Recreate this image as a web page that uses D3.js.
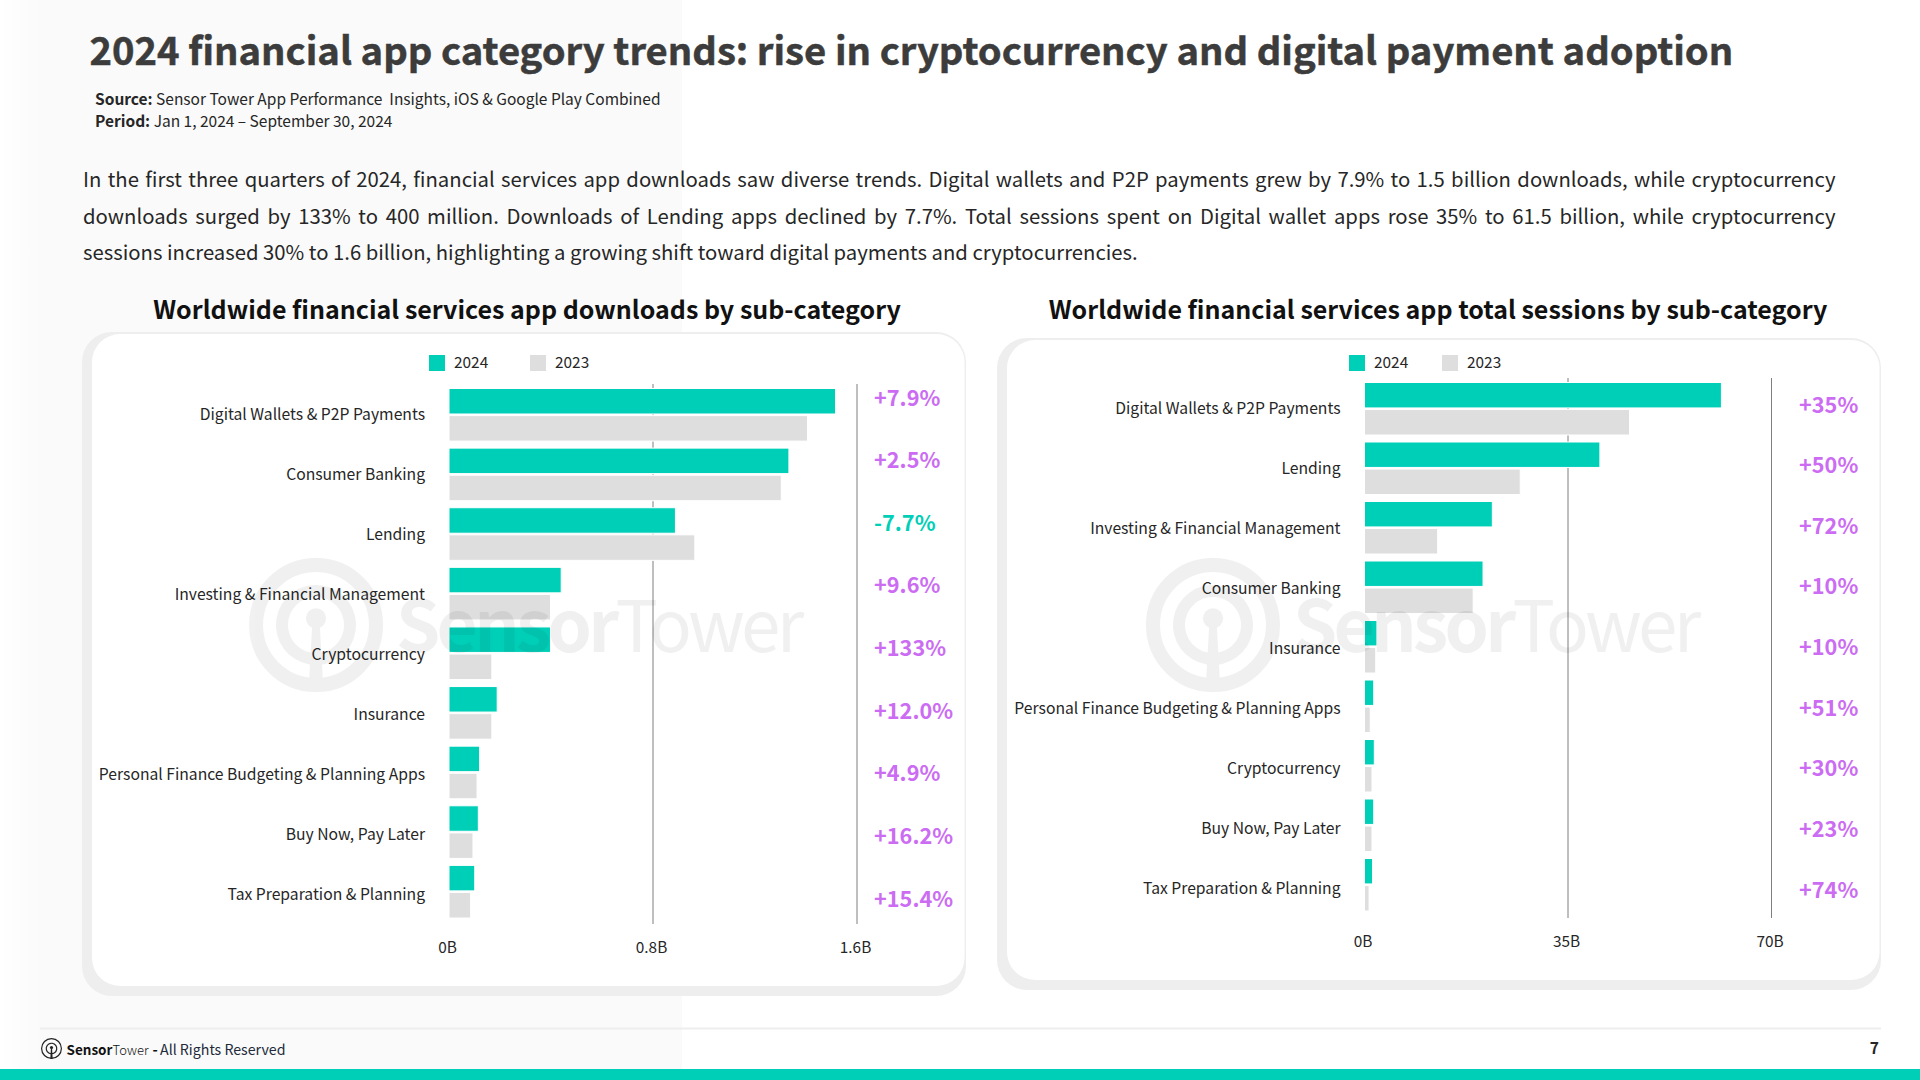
<!doctype html>
<html>
<head>
<meta charset="utf-8">
<title>2024 financial app category trends</title>
<style>
  html, body { margin:0; padding:0; background:#fff; }
  svg { display:block; }
  text { font-family:"Noto Sans CJK SC", "Noto Sans", sans-serif; white-space:pre; }
  .axis path { display:none; }
  .axis text { font-family:"Noto Sans CJK SC", "Noto Sans", sans-serif; fill:#262626; }
  .grid line { stroke:#7f7f7f; stroke-width:1px; }
</style>
<script src="https://d3js.org/d3.v7.min.js"></script>
</head>
<body>
<svg id="slide" width="1920" height="1080"></svg>
<script>

  // downloads, billions
  var dlCategories = ["Digital Wallets & P2P Payments","Consumer Banking","Lending","Investing & Financial Management","Cryptocurrency","Insurance","Personal Finance Budgeting & Planning Apps","Buy Now, Pay Later","Tax Preparation & Planning"]
  var dl2024 = [1.514,1.331,0.886,0.438,0.396,0.187,0.118,0.113,0.099]
  var dl2023 = [1.404,1.301,0.962,0.396,0.166,0.166,0.108,0.092,0.083]
  var dlChange = ["+7.9%","+2.5%","-7.7%","+9.6%","+133%","+12.0%","+4.9%","+16.2%","+15.4%"]
  var dlTicks = [0,0.8,1.6]
  var dlTickLabels = ["0B","0.8B","1.6B"]

  // sessions, billions
  var ssCategories = ["Digital Wallets & P2P Payments","Lending","Investing & Financial Management","Consumer Banking","Insurance","Personal Finance Budgeting & Planning Apps","Cryptocurrency","Buy Now, Pay Later","Tax Preparation & Planning"]
  var ss2024 = [61.3,40.4,21.9,20.3,2.05,1.5,1.6,1.5,1.3]
  var ss2023 = [45.5,26.7,12.5,18.6,1.85,0.9,1.2,1.2,0.7]
  var ssChange = ["+35%","+50%","+72%","+10%","+10%","+51%","+30%","+23%","+74%"]
  var ssTicks = [0,35,70]
  var ssTickLabels = ["0B","35B","70B"]

  var seriesNames = ["2024","2023"]

  var TEAL = "#00cfb8", GREY = "#dedede", PURPLE = "#cb6cf3", INK = "#262626"

  var svg = d3.select("#slide")

  // page background
  var defs = svg.append("defs")
  var grad = defs.append("linearGradient").attr("id","leftShade")
  grad.append("stop").attr("offset","0").attr("stop-color","#ffffff")
  grad.append("stop").attr("offset","0.06").attr("stop-color","#fafafa")
  grad.append("stop").attr("offset","1").attr("stop-color","#fafafa")
  svg.append("rect").attr("width",682).attr("height",1080).attr("fill","url(#leftShade)")

  // title block
  svg.append("text").attr("x",89.5).attr("y",65)
     .attr("font-size",38.2).attr("font-weight",700).attr("fill","#3c3c3c")
     .attr("stroke","#3c3c3c").attr("stroke-width",0.5)
     .text("2024 financial app category trends: rise in cryptocurrency and digital payment adoption")

  function metaLine(y, head, rest) {
    var t = svg.append("text").attr("x",95).attr("y",y).attr("font-size",15.5).attr("fill",INK)
    t.append("tspan").attr("font-weight",700).text(head)
    t.append("tspan").text(" " + rest)
  }
  metaLine(105,"Source:","Sensor Tower App Performance  Insights, iOS & Google Play Combined")
  metaLine(127,"Period:","Jan 1, 2024 – September 30, 2024")

  var bodyLines = [
    "In the first three quarters of 2024, financial services app downloads saw diverse trends. Digital wallets and P2P payments grew by 7.9% to 1.5 billion downloads, while cryptocurrency",
    "downloads surged by 133% to 400 million. Downloads of Lending apps declined by 7.7%. Total sessions spent on Digital wallet apps rose 35% to 61.5 billion, while cryptocurrency",
    "sessions increased 30% to 1.6 billion, highlighting a growing shift toward digital payments and cryptocurrencies."
  ]
  var bodyY = d3.scalePoint().domain(d3.range(bodyLines.length)).range([187,260])
  bodyLines.forEach(function(line,i){
    var t = svg.append("text").attr("x",83).attr("y",bodyY(i))
               .attr("font-size",20.3).attr("fill",INK).text(line)
    // first two lines are justified
    if (i < 2) {
      var extra = 1752.5 - t.node().getComputedTextLength()
      t.style("word-spacing", (extra / (line.split(" ").length - 1)) + "px")
    }
  })

  // sensor tower mark: ring, open inner arc, stem
  function logo(g, cx, cy, r, color, ringW, arcIn, arcOut) {
    g.append("circle").attr("cx",cx).attr("cy",cy).attr("r",r - ringW/2)
     .attr("fill","none").attr("stroke",color).attr("stroke-width",ringW)
    g.append("path")
     .attr("d", d3.arc().innerRadius(arcIn).outerRadius(arcOut).startAngle(Math.PI*0.8).endAngle(Math.PI*3.2)())
     .attr("transform","translate("+cx+","+cy+")").attr("fill",color)
    g.append("circle").attr("cx",cx).attr("cy",cy-r*0.1).attr("r",r*0.15).attr("fill",color)
    g.append("path")
     .attr("d","M"+(cx-r*0.05)+" "+(cy-r*0.1)+"L"+(cx+r*0.05)+" "+(cy-r*0.1)+"L"+(cx+r*0.11)+" "+(cy+r*0.97)+"L"+(cx-r*0.11)+" "+(cy+r*0.97)+"Z")
     .attr("fill",color)
  }

  function drawPanel(o) {
    var g = svg.append("g")

    // card
    g.append("rect").attr("x",o.card[0]).attr("y",o.card[1]).attr("width",o.card[2]).attr("height",o.card[3])
     .attr("rx",30).attr("fill","#eeeeee")
    g.append("rect").attr("x",o.card[0]+10).attr("y",o.card[1]+2).attr("width",o.card[2]-11.5).attr("height",o.card[3]-12)
     .attr("rx",28).attr("fill","#ffffff")

    g.append("text").attr("x",o.titleX).attr("y",o.titleY).attr("text-anchor","middle")
     .attr("font-size",25).attr("font-weight",700).attr("fill","#111").text(o.title)

    var x = d3.scaleLinear().domain([0,o.ticks[2]]).range(o.xRange)
    // labels and bars do not share a step in the original
    var y = d3.scaleBand().domain(o.categories).range(o.yRange)
    var yBars = d3.scaleBand().domain(o.categories).range([o.yRange[0],o.barsEnd])
    var inner = d3.scaleBand().domain(seriesNames).range([4.5,yBars.bandwidth()-2.5]).paddingInner(0.06)

    // axis + gridlines, bars go over them
    var axis = g.append("g").attr("class","axis grid")
      .attr("transform","translate(0,"+o.yRange[1]+")")
      .call(d3.axisBottom(x).tickValues(o.ticks)
              .tickFormat(function(d,i){return o.tickLabels[i]})
              .tickSize(-(o.yRange[1]-o.yRange[0])).tickPadding(18))
    axis.selectAll("text").attr("font-size",15.4).attr("dx",-1.5)
    axis.selectAll(".tick").filter(function(d){return d === 0}).select("line").remove()

    g.append("g").attr("class","axis")
      .attr("transform","translate("+o.labelX+",1)")
      .call(d3.axisLeft(y).tickSize(0).tickPadding(0))
      .selectAll("text").attr("font-size",15.7)

    var rows = o.categories.map(function(c,i){ return {cat:c, v24:o.v2024[i], v23:o.v2023[i]} })
    var row = g.selectAll(".row").data(rows).enter().append("g").attr("class","row")
      .attr("transform",function(d){return "translate(0,"+yBars(d.cat)+")"})
    // +0.5 on x and width makes up for the white stroke
    row.append("rect").attr("x",x(0)+0.5).attr("y",inner("2024"))
       .attr("width",function(d){return x(d.v24)-x(0)+0.5}).attr("height",inner.bandwidth())
       .attr("fill",TEAL).attr("stroke","#fff").attr("stroke-width",1)
    row.append("rect").attr("x",x(0)+0.5).attr("y",inner("2023"))
       .attr("width",function(d){return x(d.v23)-x(0)+0.5}).attr("height",inner.bandwidth())
       .attr("fill",GREY).attr("stroke","#fff").attr("stroke-width",1)

    // watermark sits on top of the bars
    var wm = g.append("g").attr("opacity",0.055)
    logo(wm, o.wmX, 625, 67, "#000", 14, 28, 40)
    var wt = wm.append("text").attr("x",o.wmX+80).attr("y",652).attr("font-size",71)
               .attr("letter-spacing",-3.7).attr("fill","#000")
    wt.append("tspan").attr("font-weight",700).text("Sensor")
    wt.append("tspan").attr("font-weight",400).text("Tower")

    // legend
    var leg = g.selectAll(".leg").data(seriesNames).enter().append("g").attr("class","leg")
    leg.append("rect").attr("x",function(d,i){return o.legendX[i]}).attr("y",355).attr("width",16).attr("height",16)
       .attr("fill",function(d,i){return i ? GREY : TEAL})
    leg.append("text").attr("x",function(d,i){return o.legendX[i]+25}).attr("y",368)
       .attr("font-size",15.4).attr("fill",INK).text(function(d){return d})

    // change labels run on their own spacing, not the band positions
    var cy = d3.scalePoint().domain(d3.range(o.change.length)).range(o.changeY)
    g.selectAll(".chg").data(o.change).enter().append("text").attr("class","chg")
     .attr("x",o.changeX).attr("y",function(d,i){return cy(i)})
     .attr("font-size",21.7).attr("font-weight",700)
     .attr("fill",function(d){return d.charAt(0) === "-" ? TEAL : PURPLE})
     .text(function(d){return d})
  }

  drawPanel({
    title:"Worldwide financial services app downloads by sub-category", titleX:527, titleY:319,
    card:[82,332,884,664], categories:dlCategories, v2024:dl2024, v2023:dl2023,
    change:dlChange, ticks:dlTicks, tickLabels:dlTickLabels,
    xRange:[448.5,856.5], yRange:[384,924], barsEnd:920.5, labelX:425,
    legendX:[429,530], changeX:874, changeY:[405.5,906.5], wmX:316
  })
  drawPanel({
    title:"Worldwide financial services app total sessions by sub-category", titleX:1438, titleY:319,
    card:[997,338,884,652], categories:ssCategories, v2024:ss2024, v2023:ss2023,
    change:ssChange, ticks:ssTicks, tickLabels:ssTickLabels,
    xRange:[1364,1771], yRange:[378,918], barsEnd:913.5, labelX:1340.5,
    legendX:[1349,1442], changeX:1799, changeY:[412.5,897.5], wmX:1213
  })

  // footer
  svg.append("line").attr("x1",40).attr("x2",1881).attr("y1",1028.5).attr("y2",1028.5)
     .attr("stroke","#eeeeee").attr("stroke-width",2)
  logo(svg.append("g"), 51.5, 1048.5, 10.5, "#222", 1.2, 4.6, 5.8)
  var ft = svg.append("text").attr("y",1055).attr("font-size",14.2).attr("fill","#222a3a")
  ft.append("tspan").attr("x",66.5).attr("font-size",13.5).attr("font-weight",700).attr("fill","#111").text("Sensor")
  ft.append("tspan").attr("x",112.5).attr("font-size",13).attr("font-weight",300).attr("fill","#111").text("Tower")
  ft.append("tspan").attr("x",152.5).attr("font-weight",700).attr("fill","#111").text("-")
  ft.append("tspan").attr("x",160).text("All Rights Reserved")
  svg.append("text").attr("x",1879).attr("y",1054).attr("text-anchor","end")
     .attr("font-size",15.5).attr("font-weight",700).attr("fill",INK).text("7")
  svg.append("rect").attr("x",0).attr("y",1069).attr("width",1920).attr("height",11).attr("fill",TEAL)

</script>
</body>
</html>
